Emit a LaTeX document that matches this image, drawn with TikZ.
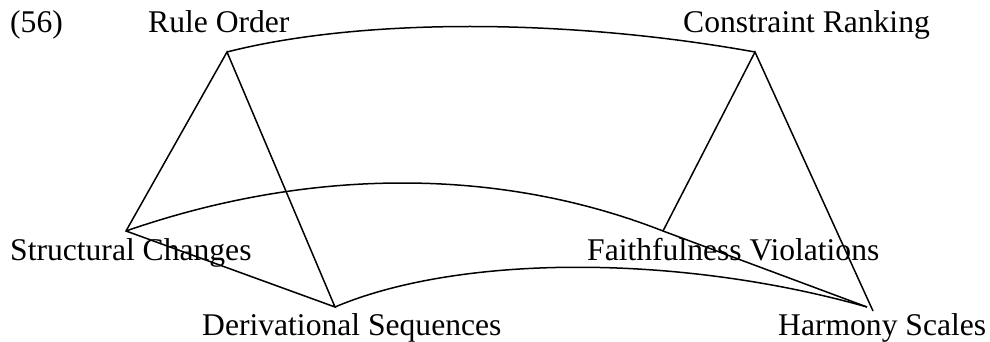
\documentclass[tikz,border=0pt]{standalone}
\usepackage{fontspec}
\setmainfont{Liberation Serif}
\usetikzlibrary{positioning}

\begin{document}
\begin{tikzpicture}[
    x=1pt, y=-1pt,
    lbl/.style={anchor=base west, inner sep=0pt, font=\fontsize{31.6}{36}\selectfont},
    edge/.style={line width=1.5pt, line join=miter}
  ]
    \useasboundingbox (0,0) rectangle (990,342);

    \node[lbl] (num) at (10,33) {(56)};
    \node[lbl] (ruleorder) at (148,33) {Rule Order};
    \node[lbl] (ranking) at (683,33) {Constraint Ranking};
    \node[lbl] (structural) at (10,260) {Structural Changes};
    \node[lbl] (faithful) at (587,260) {Faithfulness Violations};
    \node[lbl] (derivational) at (202,335) {Derivational Sequences};
    \node[lbl] (harmony) at (778,335) {Harmony Scales};

    % corners of the two triangles
    \coordinate (ro) at (227,52);
    \coordinate (cr) at (755,52);
    \coordinate (sc) at (126,231);
    \coordinate (fv) at (663,231);
    \coordinate (ds) at (335,307);
    \coordinate (hs) at (867,307);
    \coordinate (hs2) at (873,311);

    \draw[edge] (sc) -- (ro) -- (ds) -- cycle;
    \draw[edge] (fv) -- (cr) -- (hs2);
    \draw[edge] (fv) -- (hs);

    % curved links between the triangles
    \draw[edge] (ro) .. controls (360,18) and (566,18) .. (cr);
    \draw[edge] (sc) .. controls (310,167) and (500,167) .. (fv);
    \draw[edge] (ds) .. controls (460,254) and (680,254) .. (hs);
  \end{tikzpicture}
\end{document}
